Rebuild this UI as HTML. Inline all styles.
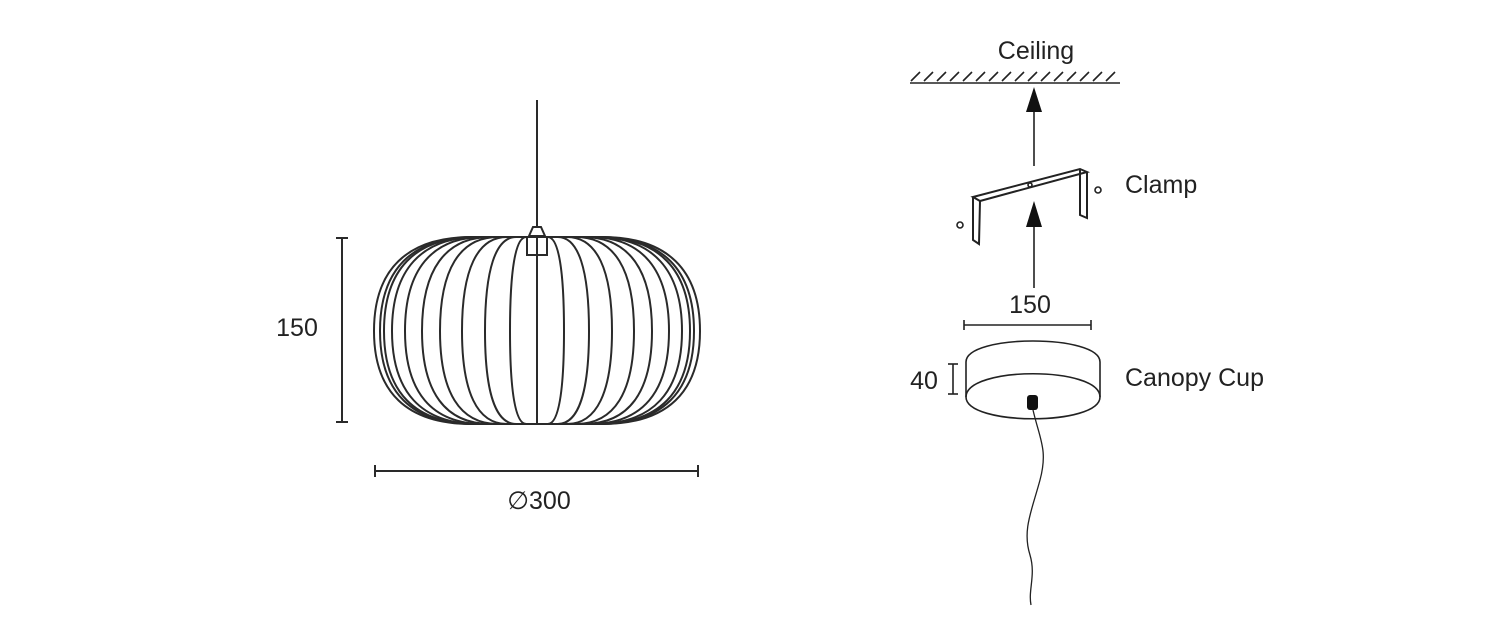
<!DOCTYPE html>
<html><head><meta charset="utf-8"><style>
html,body{margin:0;padding:0;background:#fff}
svg{display:block}
text{font-family:"Liberation Sans",sans-serif;fill:#222}
</style></head><body>
<svg width="1500" height="630" viewBox="0 0 1500 630" xmlns="http://www.w3.org/2000/svg">
<g fill="none" stroke="#2a2a2a" stroke-width="2">
<line x1="537" y1="100" x2="537" y2="227" stroke-width="2"/>
<path d="M533 227 L541 227 L545 236 L529 236 Z" fill="#fff"/>
<line x1="470" y1="237" x2="604" y2="237"/>
<line x1="470" y1="424" x2="604" y2="424"/>
<path d="M471.8 237 C406.6 237,374 270,374 331 C374 392,406.6 424,471.8 424 M602.2 237 C667.4 237,700 270,700 331 C700 392,667.4 424,602.2 424"/>
<path d="M474.2 237 C411.4 237,380 270,380 331 C380 392,411.4 424,474.2 424 M599.8 237 C662.6 237,694 270,694 331 C694 392,662.6 424,599.8 424"/>
<path d="M475.8 237 C414.6 237,384 270,384 331 C384 392,414.6 424,475.8 424 M598.2 237 C659.4 237,690 270,690 331 C690 392,659.4 424,598.2 424"/>
<path d="M479 237 C421 237,392 270,392 331 C392 392,421 424,479 424 M595 237 C653 237,682 270,682 331 C682 392,653 424,595 424"/>
<path d="M484.2 237 C431.4 237,405 270,405 331 C405 392,431.4 424,484.2 424 M589.8 237 C642.6 237,669 270,669 331 C669 392,642.6 424,589.8 424"/>
<path d="M491 237 C445 237,422 270,422 331 C422 392,445 424,491 424 M583 237 C629 237,652 270,652 331 C652 392,629 424,583 424"/>
<path d="M498.2 237 C459.4 237,440 270,440 331 C440 392,459.4 424,498.2 424 M575.8 237 C614.6 237,634 270,634 331 C634 392,614.6 424,575.8 424"/>
<path d="M507 237 C477 237,462 270,462 331 C462 392,477 424,507 424 M567 237 C597 237,612 270,612 331 C612 392,597 424,567 424"/>
<path d="M516.2 237 C495.4 237,485 270,485 331 C485 392,495.4 424,516.2 424 M557.8 237 C578.6 237,589 270,589 331 C589 392,578.6 424,557.8 424"/>
<path d="M526.2 237 C515.4 237,510 270,510 331 C510 392,515.4 424,526.2 424 M547.8 237 C558.6 237,564 270,564 331 C564 392,558.6 424,547.8 424"/>
<line x1="537" y1="237" x2="537" y2="424"/>
<rect x="527" y="237" width="20" height="18" fill="none"/>
<line x1="342" y1="238" x2="342" y2="422"/>
<line x1="336" y1="238" x2="348" y2="238"/>
<line x1="336" y1="422" x2="348" y2="422"/>
<line x1="375" y1="471" x2="698" y2="471"/>
<line x1="375" y1="465" x2="375" y2="477"/>
<line x1="698" y1="465" x2="698" y2="477"/>
</g>
<text x="297" y="336" font-size="25" text-anchor="middle">150</text>
<text x="539" y="509" font-size="25" text-anchor="middle">∅300</text>

<g fill="none" stroke="#222" stroke-width="1.6">
<line x1="910" y1="83" x2="1120" y2="83"/>
<path d="M911 81 l9 -9 M924 81 l9 -9 M937 81 l9 -9 M950 81 l9 -9 M963 81 l9 -9 M976 81 l9 -9 M989 81 l9 -9 M1002 81 l9 -9 M1015 81 l9 -9 M1028 81 l9 -9 M1041 81 l9 -9 M1054 81 l9 -9 M1067 81 l9 -9 M1080 81 l9 -9 M1093 81 l9 -9 M1106 81 l9 -9"/>
<line x1="1034" y1="105" x2="1034" y2="166"/>
<line x1="1034" y1="225" x2="1034" y2="288"/>
<path d="M973 197 L1080 169 L1087 172 L980 201 Z" fill="#fff" stroke-width="2"/>
<path d="M973 197 L973 240 L979 244 L980 201" stroke-width="2"/>
<path d="M1080 169 L1080 215 L1087 218 L1087 172" stroke-width="2"/>
<circle cx="1030" cy="185" r="2"/>
<circle cx="1098" cy="190" r="3"/>
<circle cx="960" cy="225" r="3"/>
<line x1="964" y1="325" x2="1091" y2="325"/>
<line x1="964" y1="320" x2="964" y2="330"/>
<line x1="1091" y1="320" x2="1091" y2="330"/>
<line x1="953" y1="364" x2="953" y2="394"/>
<line x1="948" y1="364" x2="958" y2="364"/>
<line x1="948" y1="394" x2="958" y2="394"/>
<path d="M966 362 C966 334,1100 334,1100 362 L1100 397 C1100 426,966 426,966 397 Z"/>
<path d="M966 397 C966 366,1100 366,1100 397"/>
<path d="M1033 410 C1040 440,1048 450,1040 480 C1032 510,1022 530,1030 555 C1036 575,1028 590,1031 605" stroke-width="1.3"/>
</g>
<rect x="1027" y="395" width="11" height="15" rx="3" fill="#111"/>
<g fill="#111">
<path d="M1034 87 L1026 112 L1042 112 Z"/>
<path d="M1034 201 L1026 227 L1042 227 Z"/>
</g>
<text x="1036" y="59" font-size="25" text-anchor="middle">Ceiling</text>
<text x="1125" y="193" font-size="25">Clamp</text>
<text x="1030" y="313" font-size="25" text-anchor="middle">150</text>
<text x="924" y="389" font-size="25" text-anchor="middle">40</text>
<text x="1125" y="386" font-size="25">Canopy Cup</text>
</svg>
</body></html>
